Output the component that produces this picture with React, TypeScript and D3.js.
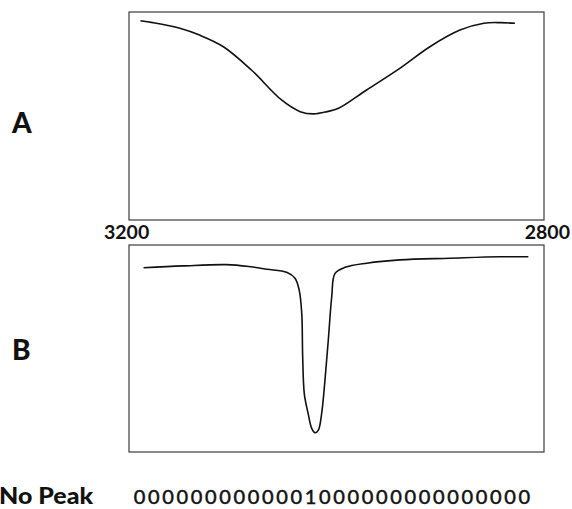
import React from "react";
import * as d3 from "d3";

// wavenumber (cm-1), transmittance (%)
const wavenumbersA = [3189, 3177, 3151, 3132, 3109, 3082, 3053, 3035, 3022, 3009, 2998, 2971, 2939, 2910, 2881, 2858, 2842, 2828];
const transmittanceA = [95.8, 94.9, 92.2, 88.9, 83.3, 72.1, 57.7, 52.1, 51.0, 52.1, 53.7, 62.5, 72.9, 83.3, 91.3, 94.6, 94.9, 94.6];

const wavenumbersB = [3186, 3148, 3106, 3083, 3067, 3048, 3040, 3036, 3033.5, 3032.6, 3031.0, 3027.5, 3023.9, 3020.7, 3017.5, 3014.3, 3011.1, 3007.9, 3004.6, 3001.4, 2991.8, 2970.9, 2938.8, 2890.6, 2842.4, 2815.1];
const transmittanceB = [89.0, 89.9, 90.5, 89.5, 88.3, 86.8, 83.9, 78.3, 67.0, 46.0, 28.0, 19.0, 11.4, 9.3, 10.6, 18.7, 34.8, 54.1, 75.0, 86.3, 89.2, 91.2, 92.8, 93.6, 94.3, 94.3];

const axisTicks = ["3200", "2800"];
const panelLabels = ["A", "B"];
const peakLabel = "No Peak";
const peakCode = [0, 0, 0, 0, 0, 0, 0, 0, 0, 0, 0, 0, 1, 0, 0, 0, 0, 0, 0, 0, 0, 0, 0, 0, 0, 0, 0, 0];

const W = 572;
const H = 509;
const FONT = "Lato, 'DejaVu Sans', sans-serif";

export default function App() {
  const x = d3.scaleLinear().domain([3200, 2800]).range([129, 544]);
  const yA = d3.scaleLinear().domain([0, 100]).range([220, 12]);
  const yB = d3.scaleLinear().domain([0, 100]).range([452, 245]);

  const mkLine = (y: d3.ScaleLinear<number, number>) =>
    d3
      .line<[number, number]>()
      .x((d) => x(d[0]))
      .y((d) => y(d[1]))
      .curve(d3.curveCatmullRom.alpha(0.5));

  const dataA: [number, number][] = wavenumbersA.map((w, i) => [w, transmittanceA[i]]);
  const dataB: [number, number][] = wavenumbersB.map((w, i) => [w, transmittanceB[i]]);

  const panels = [
    { y: yA, data: dataA, label: panelLabels[0], labelY: 133 },
    { y: yB, data: dataB, label: panelLabels[1], labelY: 360 },
  ];

  const codeX = d3
    .scalePoint<number>()
    .domain(peakCode.map((_, i) => i))
    .range([139.5, 139.5 + (peakCode.length - 1) * 14.25]);

  return (
    <svg
      width={W}
      height={H}
      style={{ position: "absolute", left: 0, top: 0, background: "#fff" }}
      fontFamily={FONT}
    >
      <rect x={0} y={0} width={W} height={H} fill="#fff" />
      {panels.map((p, i) => {
        const [r0, r1] = x.range();
        const [b, t] = p.y.range();
        return (
          <g key={i}>
            <rect
              x={r0}
              y={t}
              width={r1 - r0}
              height={b - t}
              fill="none"
              stroke="#2a2a2a"
              strokeWidth={1.1}
            />
            <path d={mkLine(p.y)(p.data) || ""} fill="none" stroke="#111" strokeWidth={1.6} />
            <text x={12} y={p.labelY} fontSize={28} fontWeight={900} fill="#111">
              {p.label}
            </text>
          </g>
        );
      })}
      <text x={x(3200) - 25} y={239} fontSize={19.5} fontWeight={700} fill="#111">
        {axisTicks[0]}
      </text>
      <text x={x(2800) + 26} y={239} fontSize={19.5} fontWeight={700} fill="#111" textAnchor="end">
        {axisTicks[1]}
      </text>
      <text
        x={-1}
        y={504}
        fontSize={23}
        fontWeight={900}
        fill="#111"
        textLength={94}
        lengthAdjust="spacingAndGlyphs"
      >
        {peakLabel}
      </text>
      {peakCode.map((v, i) => (
        <text
          key={i}
          x={codeX(i)}
          y={504}
          fontSize={20}
          fontWeight={400}
          fill="#111"
          stroke="#111"
          strokeWidth={0.5}
          textAnchor="middle"
        >
          {String(v)}
        </text>
      ))}
    </svg>
  );
}
